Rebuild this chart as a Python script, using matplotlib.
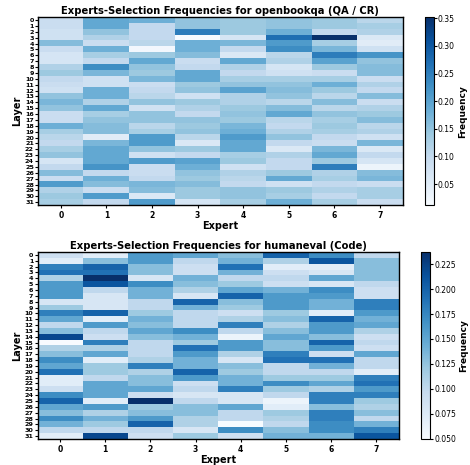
import numpy as np
import matplotlib
matplotlib.use("Agg")
import matplotlib.pyplot as plt

experts = list(range(8))
layers = list(range(32))

# openbookqa (QA / CR): rows = layers 0..31, cols = experts 0..7
freq_openbookqa = [
    [0.09, 0.19, 0.18, 0.15, 0.14, 0.15, 0.14, 0.11],
    [0.09, 0.19, 0.10, 0.15, 0.14, 0.15, 0.14, 0.13],
    [0.08, 0.15, 0.10, 0.25, 0.14, 0.18, 0.10, 0.12],
    [0.08, 0.12, 0.10, 0.012, 0.07, 0.27, 0.352, 0.06],
    [0.16, 0.09, 0.11, 0.18, 0.17, 0.21, 0.13, 0.05],
    [0.09, 0.18, 0.02, 0.18, 0.10, 0.23, 0.17, 0.08],
    [0.07, 0.13, 0.14, 0.16, 0.06, 0.11, 0.25, 0.22],
    [0.07, 0.10, 0.19, 0.09, 0.19, 0.12, 0.20, 0.15],
    [0.12, 0.23, 0.15, 0.10, 0.12, 0.07, 0.14, 0.16],
    [0.14, 0.17, 0.14, 0.19, 0.10, 0.08, 0.09, 0.16],
    [0.10, 0.08, 0.17, 0.19, 0.13, 0.13, 0.13, 0.09],
    [0.09, 0.08, 0.09, 0.14, 0.15, 0.15, 0.18, 0.12],
    [0.08, 0.18, 0.10, 0.15, 0.20, 0.16, 0.14, 0.10],
    [0.15, 0.18, 0.11, 0.08, 0.12, 0.15, 0.11, 0.16],
    [0.17, 0.12, 0.15, 0.14, 0.12, 0.11, 0.16, 0.09],
    [0.15, 0.19, 0.08, 0.12, 0.14, 0.16, 0.11, 0.12],
    [0.09, 0.13, 0.15, 0.10, 0.15, 0.19, 0.15, 0.14],
    [0.09, 0.15, 0.15, 0.15, 0.14, 0.11, 0.13, 0.16],
    [0.18, 0.16, 0.11, 0.14, 0.17, 0.10, 0.14, 0.11],
    [0.13, 0.16, 0.13, 0.15, 0.18, 0.12, 0.13, 0.12],
    [0.11, 0.05, 0.21, 0.11, 0.21, 0.15, 0.10, 0.08],
    [0.10, 0.17, 0.21, 0.06, 0.19, 0.10, 0.09, 0.17],
    [0.13, 0.19, 0.15, 0.14, 0.19, 0.06, 0.17, 0.06],
    [0.15, 0.19, 0.08, 0.10, 0.13, 0.12, 0.19, 0.10],
    [0.07, 0.19, 0.21, 0.20, 0.14, 0.10, 0.14, 0.07],
    [0.10, 0.22, 0.09, 0.18, 0.08, 0.10, 0.25, 0.03],
    [0.16, 0.10, 0.09, 0.15, 0.12, 0.14, 0.12, 0.16],
    [0.09, 0.18, 0.10, 0.14, 0.11, 0.19, 0.13, 0.17],
    [0.21, 0.16, 0.17, 0.16, 0.10, 0.08, 0.10, 0.09],
    [0.12, 0.09, 0.16, 0.14, 0.15, 0.14, 0.12, 0.13],
    [0.14, 0.21, 0.06, 0.14, 0.15, 0.13, 0.10, 0.13],
    [0.13, 0.10, 0.21, 0.07, 0.13, 0.18, 0.13, 0.09],
]

# humaneval (Code)
freq_humaneval = [
    [0.09, 0.07, 0.16, 0.15, 0.13, 0.20, 0.17, 0.10],
    [0.07, 0.13, 0.16, 0.10, 0.14, 0.11, 0.21, 0.13],
    [0.18, 0.20, 0.13, 0.09, 0.19, 0.07, 0.07, 0.13],
    [0.19, 0.19, 0.13, 0.09, 0.14, 0.09, 0.08, 0.13],
    [0.11, 0.237, 0.08, 0.14, 0.10, 0.10, 0.15, 0.13],
    [0.16, 0.21, 0.17, 0.13, 0.12, 0.09, 0.08, 0.10],
    [0.16, 0.10, 0.14, 0.11, 0.15, 0.14, 0.17, 0.09],
    [0.16, 0.08, 0.14, 0.08, 0.20, 0.16, 0.16, 0.09],
    [0.08, 0.08, 0.10, 0.20, 0.13, 0.16, 0.14, 0.18],
    [0.12, 0.08, 0.10, 0.14, 0.12, 0.16, 0.14, 0.18],
    [0.18, 0.20, 0.12, 0.10, 0.09, 0.12, 0.07, 0.16],
    [0.15, 0.07, 0.14, 0.10, 0.11, 0.13, 0.20, 0.14],
    [0.10, 0.16, 0.13, 0.10, 0.18, 0.11, 0.16, 0.15],
    [0.13, 0.10, 0.15, 0.17, 0.10, 0.13, 0.16, 0.11],
    [0.22, 0.09, 0.13, 0.14, 0.06, 0.15, 0.13, 0.09],
    [0.05, 0.18, 0.10, 0.12, 0.16, 0.13, 0.20, 0.10],
    [0.11, 0.11, 0.10, 0.19, 0.16, 0.13, 0.16, 0.09],
    [0.13, 0.15, 0.10, 0.16, 0.11, 0.18, 0.09, 0.15],
    [0.17, 0.07, 0.11, 0.14, 0.08, 0.19, 0.19, 0.10],
    [0.15, 0.12, 0.18, 0.14, 0.13, 0.10, 0.14, 0.10],
    [0.19, 0.12, 0.11, 0.20, 0.12, 0.10, 0.10, 0.07],
    [0.07, 0.10, 0.13, 0.16, 0.14, 0.12, 0.12, 0.18],
    [0.07, 0.15, 0.13, 0.09, 0.14, 0.17, 0.15, 0.19],
    [0.09, 0.15, 0.15, 0.10, 0.18, 0.12, 0.11, 0.16],
    [0.17, 0.15, 0.09, 0.08, 0.08, 0.10, 0.18, 0.18],
    [0.20, 0.07, 0.237, 0.10, 0.08, 0.06, 0.18, 0.12],
    [0.15, 0.16, 0.12, 0.13, 0.15, 0.07, 0.13, 0.11],
    [0.13, 0.11, 0.13, 0.13, 0.10, 0.12, 0.18, 0.13],
    [0.17, 0.14, 0.16, 0.11, 0.10, 0.11, 0.18, 0.10],
    [0.14, 0.12, 0.20, 0.11, 0.05, 0.10, 0.17, 0.14],
    [0.10, 0.10, 0.10, 0.08, 0.17, 0.13, 0.17, 0.18],
    [0.07, 0.22, 0.09, 0.12, 0.09, 0.14, 0.14, 0.21],
]

panels = [
    ("openbookqa (QA / CR)", freq_openbookqa, [0.081, 0.559, 0.776, 0.404], [0.904, 0.559, 0.019, 0.404], [0.05, 0.10, 0.15, 0.20, 0.25, 0.30, 0.35]),
    ("humaneval (Code)", freq_humaneval, [0.080, 0.056, 0.768, 0.402], [0.896, 0.056, 0.019, 0.402], [0.050, 0.075, 0.100, 0.125, 0.150, 0.175, 0.200, 0.225]),
]

fig = plt.figure(figsize=(4.7, 4.65), dpi=100)

for idx, (name, data, ax_pos, cb_pos, cb_ticks) in enumerate(panels):
    arr = np.array(data)
    ax = fig.add_axes(ax_pos)
    cax = fig.add_axes(cb_pos)
    im = ax.imshow(arr, cmap="Blues", aspect="auto", interpolation="nearest")
    ax.set_title(f"Experts-Selection Frequencies for {name}", fontsize=7.2, fontweight="bold", pad=2)
    ax.set_xticks(experts)
    ax.set_xticklabels([str(e) for e in experts], fontsize=5.5, fontweight="bold")
    ax.set_yticks(layers)
    ax.set_yticklabels([str(l) for l in layers], fontsize=4.6, fontweight="bold")
    ax.tick_params(axis="y", length=2, pad=1)
    ax.tick_params(axis="x", length=2, pad=2)
    ax.set_ylabel("Layer", fontsize=7, fontweight="bold", labelpad=2)
    ax.set_xlabel("Expert", fontsize=7, fontweight="bold", labelpad=1)
    for s in ax.spines.values():
        s.set_linewidth(1.0)
    cb = fig.colorbar(im, cax=cax, ticks=cb_ticks)
    cb.ax.tick_params(labelsize=5.5, length=2, pad=1)
    cb.set_label("Frequency", fontsize=6.5, fontweight="bold", labelpad=2)

fig.savefig("out.png", dpi=100)
